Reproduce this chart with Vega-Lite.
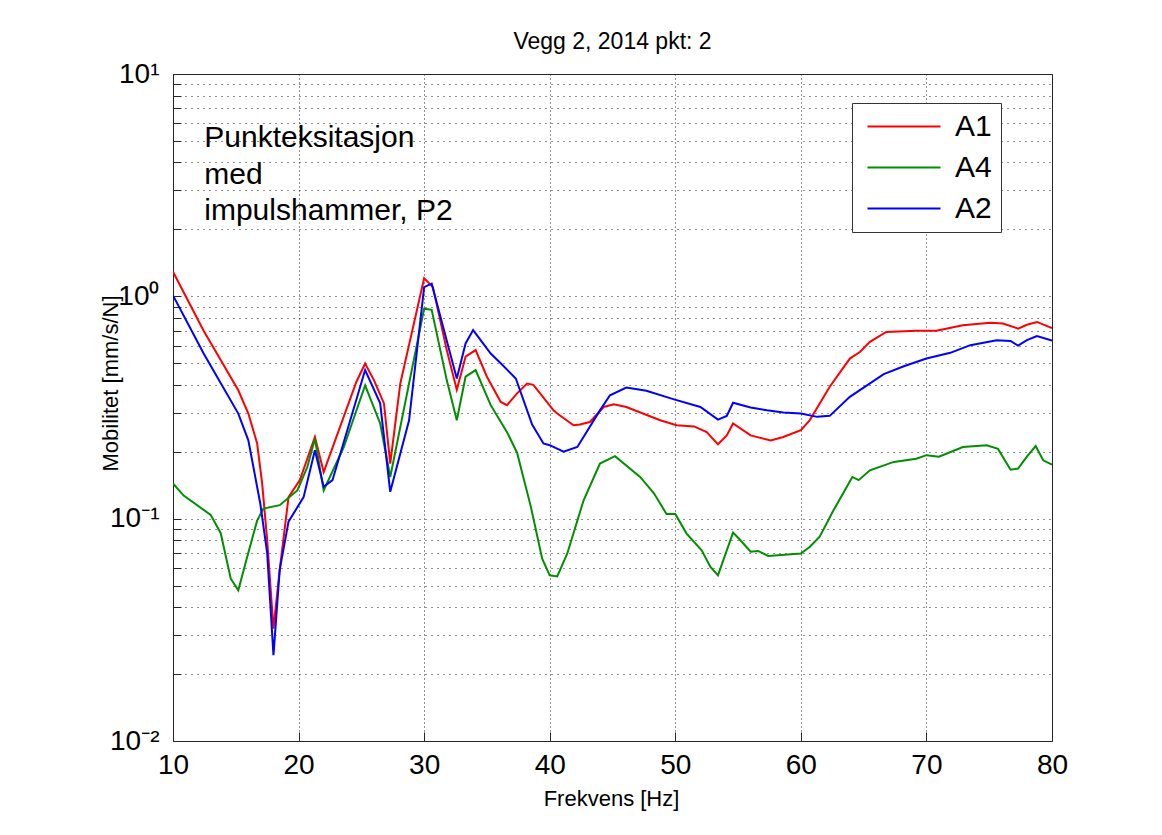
{
  "$schema": "https://vega.github.io/schema/vega-lite/v6.json",
  "autosize": {"type": "none"},
  "padding": {"left": 173, "top": 74, "right": 110, "bottom": 94},
  "width": 879,
  "height": 667,
  "background": "#ffffff",
  "title": {"text": "Vegg 2, 2014 pkt: 2", "fontSize": 23, "font": "Liberation Sans", "fontWeight": "normal", "color": "#000", "offset": 21, "dy": 33, "baseline": "alphabetic", "anchor": "middle", "frame": "group"},
  "datasets": {
    "curves": [
      {"f": 10.0, "v": 1.29, "s": "A1"},
      {"f": 12.44, "v": 0.70, "s": "A1"},
      {"f": 15.2, "v": 0.378, "s": "A1"},
      {"f": 16.0, "v": 0.297, "s": "A1"},
      {"f": 16.7, "v": 0.218, "s": "A1"},
      {"f": 17.1, "v": 0.144, "s": "A1"},
      {"f": 17.5, "v": 0.080, "s": "A1"},
      {"f": 18.0, "v": 0.032, "s": "A1"},
      {"f": 18.5, "v": 0.059, "s": "A1"},
      {"f": 19.2, "v": 0.125, "s": "A1"},
      {"f": 20.1, "v": 0.149, "s": "A1"},
      {"f": 21.3, "v": 0.233, "s": "A1"},
      {"f": 22.0, "v": 0.162, "s": "A1"},
      {"f": 24.6, "v": 0.412, "s": "A1"},
      {"f": 25.3, "v": 0.499, "s": "A1"},
      {"f": 26.0, "v": 0.42, "s": "A1"},
      {"f": 26.8, "v": 0.33, "s": "A1"},
      {"f": 27.3, "v": 0.177, "s": "A1"},
      {"f": 28.1, "v": 0.405, "s": "A1"},
      {"f": 30.0, "v": 1.205, "s": "A1"},
      {"f": 30.7, "v": 1.10, "s": "A1"},
      {"f": 31.8, "v": 0.573, "s": "A1"},
      {"f": 32.6, "v": 0.38, "s": "A1"},
      {"f": 33.3, "v": 0.535, "s": "A1"},
      {"f": 34.1, "v": 0.573, "s": "A1"},
      {"f": 35.0, "v": 0.435, "s": "A1"},
      {"f": 36.1, "v": 0.335, "s": "A1"},
      {"f": 36.6, "v": 0.324, "s": "A1"},
      {"f": 37.4, "v": 0.366, "s": "A1"},
      {"f": 38.2, "v": 0.405, "s": "A1"},
      {"f": 38.7, "v": 0.40, "s": "A1"},
      {"f": 40.3, "v": 0.307, "s": "A1"},
      {"f": 40.6, "v": 0.297, "s": "A1"},
      {"f": 41.9, "v": 0.263, "s": "A1"},
      {"f": 42.4, "v": 0.265, "s": "A1"},
      {"f": 43.2, "v": 0.272, "s": "A1"},
      {"f": 44.3, "v": 0.318, "s": "A1"},
      {"f": 45.1, "v": 0.327, "s": "A1"},
      {"f": 46.1, "v": 0.318, "s": "A1"},
      {"f": 48.8, "v": 0.277, "s": "A1"},
      {"f": 50.1, "v": 0.263, "s": "A1"},
      {"f": 51.5, "v": 0.26, "s": "A1"},
      {"f": 52.5, "v": 0.245, "s": "A1"},
      {"f": 53.4, "v": 0.216, "s": "A1"},
      {"f": 54.1, "v": 0.237, "s": "A1"},
      {"f": 54.6, "v": 0.268, "s": "A1"},
      {"f": 56.0, "v": 0.237, "s": "A1"},
      {"f": 57.6, "v": 0.225, "s": "A1"},
      {"f": 58.6, "v": 0.233, "s": "A1"},
      {"f": 60.0, "v": 0.25, "s": "A1"},
      {"f": 60.7, "v": 0.277, "s": "A1"},
      {"f": 62.3, "v": 0.392, "s": "A1"},
      {"f": 63.9, "v": 0.525, "s": "A1"},
      {"f": 64.7, "v": 0.562, "s": "A1"},
      {"f": 65.5, "v": 0.624, "s": "A1"},
      {"f": 66.8, "v": 0.692, "s": "A1"},
      {"f": 69.2, "v": 0.70, "s": "A1"},
      {"f": 70.8, "v": 0.70, "s": "A1"},
      {"f": 72.9, "v": 0.741, "s": "A1"},
      {"f": 75.1, "v": 0.76, "s": "A1"},
      {"f": 76.1, "v": 0.755, "s": "A1"},
      {"f": 77.3, "v": 0.716, "s": "A1"},
      {"f": 78.0, "v": 0.745, "s": "A1"},
      {"f": 78.8, "v": 0.767, "s": "A1"},
      {"f": 80.0, "v": 0.72, "s": "A1"},

      {"f": 10.0, "v": 0.144, "s": "A4"},
      {"f": 10.85, "v": 0.127, "s": "A4"},
      {"f": 13.0, "v": 0.104, "s": "A4"},
      {"f": 13.8, "v": 0.086, "s": "A4"},
      {"f": 14.6, "v": 0.0537, "s": "A4"},
      {"f": 15.2, "v": 0.0476, "s": "A4"},
      {"f": 15.9, "v": 0.067, "s": "A4"},
      {"f": 16.7, "v": 0.098, "s": "A4"},
      {"f": 17.2, "v": 0.111, "s": "A4"},
      {"f": 18.5, "v": 0.115, "s": "A4"},
      {"f": 19.9, "v": 0.134, "s": "A4"},
      {"f": 20.7, "v": 0.171, "s": "A4"},
      {"f": 21.3, "v": 0.229, "s": "A4"},
      {"f": 22.0, "v": 0.134, "s": "A4"},
      {"f": 23.6, "v": 0.21, "s": "A4"},
      {"f": 25.3, "v": 0.398, "s": "A4"},
      {"f": 26.5, "v": 0.268, "s": "A4"},
      {"f": 27.3, "v": 0.154, "s": "A4"},
      {"f": 30.0, "v": 0.88, "s": "A4"},
      {"f": 30.6, "v": 0.87, "s": "A4"},
      {"f": 31.8, "v": 0.42, "s": "A4"},
      {"f": 32.6, "v": 0.277, "s": "A4"},
      {"f": 33.3, "v": 0.435, "s": "A4"},
      {"f": 34.1, "v": 0.466, "s": "A4"},
      {"f": 35.3, "v": 0.324, "s": "A4"},
      {"f": 36.6, "v": 0.245, "s": "A4"},
      {"f": 37.4, "v": 0.198, "s": "A4"},
      {"f": 38.5, "v": 0.113, "s": "A4"},
      {"f": 39.4, "v": 0.066, "s": "A4"},
      {"f": 40.0, "v": 0.0556, "s": "A4"},
      {"f": 40.6, "v": 0.055, "s": "A4"},
      {"f": 41.4, "v": 0.0697, "s": "A4"},
      {"f": 42.7, "v": 0.121, "s": "A4"},
      {"f": 44.0, "v": 0.177, "s": "A4"},
      {"f": 45.2, "v": 0.191, "s": "A4"},
      {"f": 47.2, "v": 0.154, "s": "A4"},
      {"f": 48.3, "v": 0.13, "s": "A4"},
      {"f": 49.3, "v": 0.105, "s": "A4"},
      {"f": 50.0, "v": 0.105, "s": "A4"},
      {"f": 50.9, "v": 0.0857, "s": "A4"},
      {"f": 52.1, "v": 0.072, "s": "A4"},
      {"f": 52.8, "v": 0.0607, "s": "A4"},
      {"f": 53.4, "v": 0.0556, "s": "A4"},
      {"f": 54.6, "v": 0.0865, "s": "A4"},
      {"f": 55.1, "v": 0.081, "s": "A4"},
      {"f": 56.0, "v": 0.071, "s": "A4"},
      {"f": 56.6, "v": 0.0716, "s": "A4"},
      {"f": 57.4, "v": 0.068, "s": "A4"},
      {"f": 60.0, "v": 0.0697, "s": "A4"},
      {"f": 60.7, "v": 0.0746, "s": "A4"},
      {"f": 61.5, "v": 0.083, "s": "A4"},
      {"f": 62.6, "v": 0.109, "s": "A4"},
      {"f": 64.1, "v": 0.154, "s": "A4"},
      {"f": 64.6, "v": 0.149, "s": "A4"},
      {"f": 65.5, "v": 0.165, "s": "A4"},
      {"f": 67.4, "v": 0.18, "s": "A4"},
      {"f": 69.2, "v": 0.186, "s": "A4"},
      {"f": 70.0, "v": 0.193, "s": "A4"},
      {"f": 71.0, "v": 0.19, "s": "A4"},
      {"f": 72.9, "v": 0.21, "s": "A4"},
      {"f": 74.8, "v": 0.214, "s": "A4"},
      {"f": 75.7, "v": 0.206, "s": "A4"},
      {"f": 76.7, "v": 0.166, "s": "A4"},
      {"f": 77.3, "v": 0.168, "s": "A4"},
      {"f": 78.0, "v": 0.19, "s": "A4"},
      {"f": 78.7, "v": 0.212, "s": "A4"},
      {"f": 79.3, "v": 0.183, "s": "A4"},
      {"f": 80.0, "v": 0.175, "s": "A4"},

      {"f": 10.0, "v": 1.01, "s": "A2"},
      {"f": 12.44, "v": 0.553, "s": "A2"},
      {"f": 15.2, "v": 0.297, "s": "A2"},
      {"f": 16.0, "v": 0.225, "s": "A2"},
      {"f": 16.95, "v": 0.117, "s": "A2"},
      {"f": 17.5, "v": 0.070, "s": "A2"},
      {"f": 18.0, "v": 0.0243, "s": "A2"},
      {"f": 18.5, "v": 0.059, "s": "A2"},
      {"f": 19.2, "v": 0.097, "s": "A2"},
      {"f": 20.4, "v": 0.125, "s": "A2"},
      {"f": 21.3, "v": 0.203, "s": "A2"},
      {"f": 22.0, "v": 0.139, "s": "A2"},
      {"f": 22.7, "v": 0.149, "s": "A2"},
      {"f": 25.3, "v": 0.466, "s": "A2"},
      {"f": 26.5, "v": 0.33, "s": "A2"},
      {"f": 27.3, "v": 0.132, "s": "A2"},
      {"f": 28.8, "v": 0.277, "s": "A2"},
      {"f": 30.0, "v": 1.10, "s": "A2"},
      {"f": 30.6, "v": 1.14, "s": "A2"},
      {"f": 32.6, "v": 0.427, "s": "A2"},
      {"f": 33.3, "v": 0.614, "s": "A2"},
      {"f": 33.9, "v": 0.705, "s": "A2"},
      {"f": 35.3, "v": 0.553, "s": "A2"},
      {"f": 36.1, "v": 0.50, "s": "A2"},
      {"f": 37.3, "v": 0.427, "s": "A2"},
      {"f": 38.6, "v": 0.265, "s": "A2"},
      {"f": 39.5, "v": 0.218, "s": "A2"},
      {"f": 40.0, "v": 0.214, "s": "A2"},
      {"f": 41.1, "v": 0.20, "s": "A2"},
      {"f": 42.2, "v": 0.21, "s": "A2"},
      {"f": 44.0, "v": 0.307, "s": "A2"},
      {"f": 44.8, "v": 0.359, "s": "A2"},
      {"f": 46.1, "v": 0.389, "s": "A2"},
      {"f": 47.7, "v": 0.376, "s": "A2"},
      {"f": 49.9, "v": 0.344, "s": "A2"},
      {"f": 52.0, "v": 0.318, "s": "A2"},
      {"f": 53.4, "v": 0.279, "s": "A2"},
      {"f": 54.1, "v": 0.29, "s": "A2"},
      {"f": 54.6, "v": 0.332, "s": "A2"},
      {"f": 56.0, "v": 0.316, "s": "A2"},
      {"f": 57.3, "v": 0.307, "s": "A2"},
      {"f": 58.6, "v": 0.30, "s": "A2"},
      {"f": 60.0, "v": 0.297, "s": "A2"},
      {"f": 61.3, "v": 0.287, "s": "A2"},
      {"f": 62.3, "v": 0.29, "s": "A2"},
      {"f": 63.9, "v": 0.353, "s": "A2"},
      {"f": 66.6, "v": 0.447, "s": "A2"},
      {"f": 68.2, "v": 0.485, "s": "A2"},
      {"f": 70.0, "v": 0.525, "s": "A2"},
      {"f": 71.9, "v": 0.557, "s": "A2"},
      {"f": 73.5, "v": 0.603, "s": "A2"},
      {"f": 75.6, "v": 0.635, "s": "A2"},
      {"f": 76.7, "v": 0.63, "s": "A2"},
      {"f": 77.3, "v": 0.60, "s": "A2"},
      {"f": 78.0, "v": 0.635, "s": "A2"},
      {"f": 78.8, "v": 0.662, "s": "A2"},
      {"f": 80.0, "v": 0.632, "s": "A2"}
    ],
    "note": [
      {"f": 12.49, "v": 4.68, "label": "Punkteksitasjon\nmed\nimpulshammer, P2"}
    ]
  },
  "layer": [
    {
      "data": {"name": "curves"},
      "mark": {"type": "line", "strokeWidth": 2, "clip": true},
      "encoding": {
        "x": {
          "field": "f", "type": "quantitative",
          "scale": {"domain": [10, 80], "nice": false, "zero": false},
          "axis": {
            "values": [10, 20, 30, 40, 50, 60, 70, 80],
            "format": "d",
            "grid": true, "gridDash": [1, 3], "gridColor": "#222", "gridWidth": 1,
            "domain": false,
            "tickSize": -9, "tickColor": "#262626",
            "labelFontSize": 28, "labelFont": "Liberation Sans", "labelColor": "#000",
            "labelPadding": 19, "labelFlush": false, "labelOverlap": false,
            "title": "Frekvens [Hz]", "titleFontSize": 22, "titleFont": "Liberation Sans",
            "titleFontWeight": "normal", "titleColor": "#000",
            "titleX": 438, "titleY": 64, "titleBaseline": "alphabetic"
          }
        },
        "y": {
          "field": "v", "type": "quantitative",
          "scale": {"type": "log", "domain": [0.01, 10], "nice": false},
          "axis": {
            "values": [0.01, 0.02, 0.03, 0.04, 0.05, 0.06, 0.07, 0.08, 0.09, 0.1, 0.2, 0.3, 0.4, 0.5, 0.6, 0.7, 0.8, 0.9, 1, 2, 3, 4, 5, 6, 7, 8, 9, 10],
            "labelExpr": "datum.value == 10 ? '10¹' : datum.value == 1 ? '10⁰' : datum.value == 0.1 ? '10⁻¹' : datum.value == 0.01 ? '10⁻²' : ''",
            "grid": true, "gridDash": [1, 5], "gridColor": "#222", "gridWidth": 1,
            "domain": false,
            "tickSize": -8, "tickColor": "#262626",
            "labelFontSize": 28, "labelFont": "Liberation Sans", "labelColor": "#000",
            "labelPadding": 22, "labelOverlap": false, "labelFlush": false,
            "title": "Mobilitet [mm/s/N]", "titleFontSize": 22, "titleFont": "Liberation Sans",
            "titleFontWeight": "normal", "titleColor": "#000",
            "titleX": -56, "titleY": 309, "titleBaseline": "alphabetic", "titleAngle": -90
          }
        },
        "color": {
          "field": "s", "type": "nominal",
          "scale": {"domain": ["A1", "A4", "A2"], "range": ["#ff0000", "#008f00", "#0000ff"]},
          "legend": {
            "orient": "none", "legendX": 679, "legendY": 29,
            "title": null,
            "symbolType": "stroke", "symbolSize": 5329, "symbolStrokeWidth": 2,
            "clipHeight": 30, "rowPadding": 11, "padding": 8.5,
            "symbolOffset": 6, "labelOffset": 13.5,
            "labelFontSize": 30, "labelFont": "Liberation Sans", "labelColor": "#000",
            "labelExpr": "datum.label + '\u00a0\u2009'",
            "strokeColor": "#333", "fillColor": "#ffffff"
          }
        }
      }
    },
    {
      "data": {"name": "note"},
      "mark": {"type": "text", "align": "left", "baseline": "alphabetic", "fontSize": 30, "font": "Liberation Sans", "lineBreak": "\n", "lineHeight": 36.5, "color": "#000"},
      "encoding": {
        "x": {"field": "f", "type": "quantitative"},
        "y": {"field": "v", "type": "quantitative"},
        "text": {"field": "label", "type": "nominal"}
      }
    }
  ],
  "config": {
    "font": "Liberation Sans",
    "view": {"stroke": "#262626", "strokeWidth": 1}
  }
}
